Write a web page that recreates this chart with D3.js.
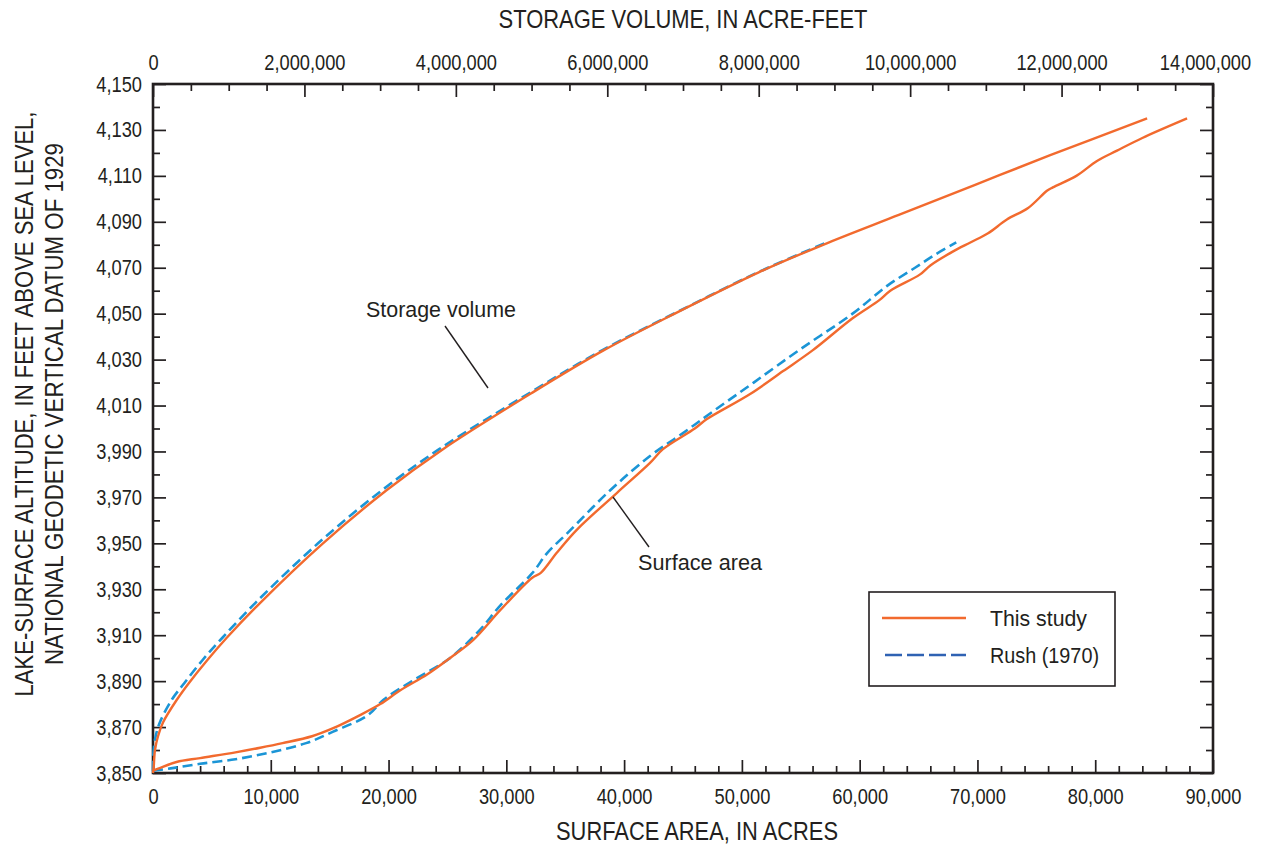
<!DOCTYPE html>
<html>
<head>
<meta charset="utf-8">
<script src="https://cdn.jsdelivr.net/npm/d3@7"></script>
<style>
  body { margin: 0; background: #fff; }
  svg { display: block; font-family: "Liberation Sans", Arial, sans-serif; }
  .tick text {
    fill: #231f20; font-size: 22px;
    transform-box: fill-box; transform-origin: center; transform: scaleX(0.83);
  }
  .left-axis .tick text { transform-origin: right center; }
  .tick line { stroke: #231f20; stroke-width: 1.7px; }
</style>
</head>
<body>
<svg id="chart" width="1262" height="845"></svg>
<script>
// altitudes (ft) and values
const storageStudyAlt = [3850, 3853, 3860, 3866, 3872, 3882, 3889, 3899, 3909, 3924, 3950, 3973, 3991, 4015, 4034, 4051, 4068, 4080, 4093, 4106, 4119, 4135];
const storageStudyVol = [0, 10000, 26000, 66000, 132000, 317000, 470000, 713000, 977000, 1413000, 2245000, 3080000, 3830000, 4980000, 5950000, 6950000, 8000000, 8850000, 9850000, 10850000, 11850000, 13130000];

const storageRushAlt = [3851, 3860, 3866, 3872, 3882, 3889, 3899, 3909, 3924, 3950, 3973, 3991, 4015, 4034, 4051, 4068, 4081];
const storageRushVol = [0, 8000, 35000, 90000, 250000, 410000, 650000, 920000, 1350000, 2180000, 3020000, 3780000, 4950000, 5930000, 6940000, 7990000, 8900000];

const areaStudyAlt = [3851, 3852, 3854.8, 3856.5, 3859, 3861, 3863, 3866, 3869.5, 3875, 3880, 3886, 3893, 3900, 3908, 3921, 3935, 3937, 3946, 3956, 3972, 3985, 3991, 4000, 4004, 4015, 4025, 4034, 4048, 4056, 4060, 4067, 4071, 4077, 4081, 4085, 4091, 4096, 4103.5, 4105, 4110, 4116.5, 4121, 4126.5, 4135];
const areaStudyAcres = [0, 500, 2000, 4000, 7000, 9100, 11000, 13500, 15300, 17500, 19300, 21000, 23300, 25200, 27200, 29500, 32200, 32900, 34300, 36000, 39400, 42200, 43300, 46000, 47000, 50700, 53500, 56000, 59400, 61700, 62600, 65100, 66000, 67900, 69400, 70900, 72500, 74300, 75900, 76400, 78400, 80150, 81850, 84000, 87800];

const areaRushAlt = [3851, 3852, 3854, 3856, 3859, 3863, 3868, 3875, 3882, 3890, 3900, 3912, 3923, 3937, 3946, 3954, 3973, 3988, 3998, 4008, 4020, 4035, 4050, 4062, 4070, 4076, 4081];
const areaRushAcres = [0, 1500, 4000, 7000, 10000, 13000, 15300, 18200, 19600, 22000, 25200, 27700, 29500, 32200, 33500, 35100, 38800, 42200, 45000, 47700, 51000, 55100, 59400, 62300, 64700, 66500, 68200];

const legendLabels = ["This study", "Rush (1970)"];

const ink = "#231f20";
const orange = "#f26a2e";
const blue = "#1b95d6";
const legendBlue = "#2f62b3";

const plotLeft = 153, plotRight = 1213, plotTop = 84, plotBottom = 773;

const svg = d3.select("#chart");

const y = d3.scaleLinear().domain([3850, 4150]).range([plotBottom, plotTop]);
const xArea = d3.scaleLinear().domain([0, 90000]).range([plotLeft, plotRight]);
const xVol = d3.scaleLinear().domain([0, 14000000]).range([plotLeft, plotRight]);

const fmt = d3.format(",");

// axes, ticks pointing inward
function drawAxis(axis, tx, ty, cls) {
  const g = svg.append("g").attr("class", cls || null)
    .attr("transform", `translate(${tx},${ty})`).call(axis);
  g.select(".domain").remove();
  return g;
}

drawAxis(d3.axisLeft(y).tickValues(d3.range(3850, 4151, 20)).tickSize(-13).tickPadding(11).tickFormat(fmt), plotLeft, 0, "left-axis");
drawAxis(d3.axisLeft(y).tickValues(d3.range(3860, 4150, 20)).tickSize(-7).tickFormat(""), plotLeft, 0);
drawAxis(d3.axisRight(y).tickValues(d3.range(3850, 4151, 20)).tickSize(-13).tickFormat(""), plotRight, 0);
drawAxis(d3.axisRight(y).tickValues(d3.range(3860, 4150, 20)).tickSize(-7).tickFormat(""), plotRight, 0);

drawAxis(d3.axisBottom(xArea).tickValues(d3.range(0, 90001, 10000)).tickSize(-13).tickPadding(15).tickFormat(fmt), 0, plotBottom);
drawAxis(d3.axisBottom(xArea).tickValues(d3.range(0, 90001, 2000).filter(d => d % 10000)).tickSize(-7).tickFormat(""), 0, plotBottom);

const topAxis = drawAxis(d3.axisTop(xVol).tickValues(d3.range(0, 14000001, 2000000)).tickSize(-13).tickPadding(14).tickFormat(fmt), 0, plotTop);
// last label is pulled in a little, as in the original
topAxis.selectAll(".tick text").filter(d => d === 14000000).attr("x", -8);
drawAxis(d3.axisTop(xVol).tickValues(d3.range(0, 14000001, 500000).filter(d => d % 2000000)).tickSize(-7).tickFormat(""), 0, plotTop);

svg.append("rect")
  .attr("x", plotLeft).attr("y", plotTop)
  .attr("width", plotRight - plotLeft).attr("height", plotBottom - plotTop)
  .attr("fill", "none").attr("stroke", ink).attr("stroke-width", 2.6);

// axis titles (condensed face is missing, so squeeze to the original widths)
function title(x, yy, len, txt, parent) {
  return (parent || svg).append("text")
    .attr("x", x).attr("y", yy)
    .attr("text-anchor", "middle").attr("font-size", 26).attr("fill", ink)
    .attr("textLength", len).attr("lengthAdjust", "spacingAndGlyphs")
    .text(txt);
}

title(697, 840, 282, "SURFACE AREA, IN ACRES");
title(683, 28, 369, "STORAGE VOLUME, IN ACRE-FEET");

const yTitle = svg.append("g").attr("transform", "translate(0,404) rotate(-90)");
title(0, 33, 585, "LAKE-SURFACE ALTITUDE, IN FEET ABOVE SEA LEVEL,", yTitle);
title(0, 63, 522, "NATIONAL GEODETIC VERTICAL DATUM OF 1929", yTitle);

// curves
function curve(vals, alts, xs) {
  return d3.line()
    .x(d => xs(d[0]))
    .y(d => y(d[1]))
    .curve(d3.curveCatmullRom.alpha(0.5))(vals.map((v, i) => [v, alts[i]]));
}

const plot = svg.append("g");

plot.append("path")
  .attr("d", curve(storageRushVol, storageRushAlt, xVol))
  .attr("fill", "none").attr("stroke", blue).attr("stroke-width", 2.6)
  .attr("stroke-dasharray", "10,5");
plot.append("path")
  .attr("d", curve(areaRushAcres, areaRushAlt, xArea))
  .attr("fill", "none").attr("stroke", blue).attr("stroke-width", 2.6)
  .attr("stroke-dasharray", "10,5");

plot.append("path")
  .attr("d", curve(storageStudyVol, storageStudyAlt, xVol))
  .attr("fill", "none").attr("stroke", orange).attr("stroke-width", 2.4);
plot.append("path")
  .attr("d", curve(areaStudyAcres, areaStudyAlt, xArea))
  .attr("fill", "none").attr("stroke", orange).attr("stroke-width", 2.4);

// curve labels with leader lines
svg.append("text").attr("x", 366).attr("y", 317)
  .attr("font-size", 22).attr("fill", ink)
  .attr("textLength", 150).attr("lengthAdjust", "spacingAndGlyphs")
  .text("Storage volume");
svg.append("line")
  .attr("x1", 445).attr("y1", 326).attr("x2", 488).attr("y2", 388)
  .attr("stroke", ink).attr("stroke-width", 1.4);

svg.append("text").attr("x", 638).attr("y", 570)
  .attr("font-size", 22).attr("fill", ink)
  .attr("textLength", 124).attr("lengthAdjust", "spacingAndGlyphs")
  .text("Surface area");
svg.append("line")
  .attr("x1", 613).attr("y1", 497).attr("x2", 649).attr("y2", 547)
  .attr("stroke", ink).attr("stroke-width", 1.4);

// legend
const legend = svg.append("g");
legend.append("rect")
  .attr("x", 869).attr("y", 592).attr("width", 246).attr("height", 94)
  .attr("fill", "#fff").attr("stroke", ink).attr("stroke-width", 1.6);

const legendStyles = [
  { color: orange, dash: null, len: 97, x1: 882 },
  { color: legendBlue, dash: "17,5", len: 109, x1: 885 }
];
legendLabels.forEach((label, i) => {
  const ly = 618 + i * 37;
  legend.append("line")
    .attr("x1", legendStyles[i].x1).attr("x2", 966).attr("y1", ly).attr("y2", ly)
    .attr("stroke", legendStyles[i].color).attr("stroke-width", 2.6)
    .attr("stroke-dasharray", legendStyles[i].dash);
  legend.append("text")
    .attr("x", 990).attr("y", ly + 8)
    .attr("font-size", 22).attr("fill", ink)
    .attr("textLength", legendStyles[i].len).attr("lengthAdjust", "spacingAndGlyphs")
    .text(label);
});
</script>
</body>
</html>
